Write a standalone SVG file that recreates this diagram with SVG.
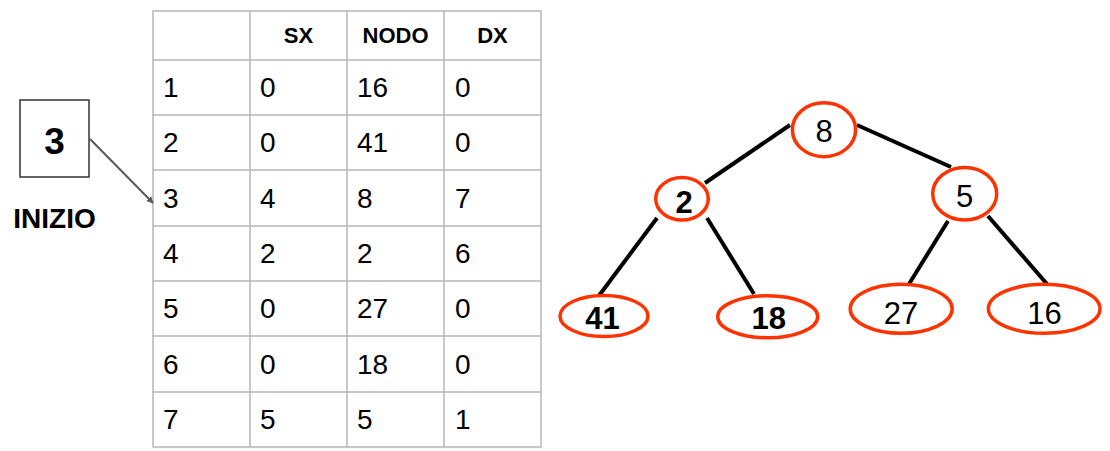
<svg xmlns="http://www.w3.org/2000/svg" width="1110" height="451" viewBox="0 0 1110 451">
<defs>
<style>
.grid{stroke:#b7b7b7;stroke-width:1.5;fill:none}
.hd{font-family:"Liberation Sans",Arial,sans-serif;font-weight:bold;font-size:22px;fill:#000;text-anchor:middle}
.cell{font-family:"Liberation Sans",Arial,sans-serif;font-size:28px;fill:#000}
.edge{stroke:#000;stroke-width:4;fill:none}
.nd{fill:#fff;stroke:#ff3300;stroke-width:3.5}
.nt{font-family:"Liberation Sans",Arial,sans-serif;font-size:31px;fill:#000;text-anchor:middle}
.b{font-weight:bold}
</style>
<marker id="ah" viewBox="0 0 10 10" refX="9" refY="5" markerWidth="7" markerHeight="7" orient="auto" markerUnits="userSpaceOnUse">
<path d="M0,0 L10,5 L0,10 z" fill="#595959"/>
</marker>
</defs>
<rect width="1110" height="451" fill="#fff"/>

<g id="table">
<rect class="grid" x="153" y="11" width="388" height="436"/>
<path class="grid" d="M250,11V447M347,11V447M444,11V447M153,60H541M153,115H541M153,170H541M153,226H541M153,281H541M153,336H541M153,392H541"/>
<text class="hd" x="298.5" y="43">SX</text>
<text class="hd" x="395.5" y="43">NODO</text>
<text class="hd" x="492.5" y="43">DX</text>
<g class="cell">
<text x="163" y="97">1</text><text x="260" y="97">0</text><text x="357" y="97">16</text><text x="455" y="97">0</text>
<text x="163" y="152">2</text><text x="260" y="152">0</text><text x="357" y="152">41</text><text x="455" y="152">0</text>
<text x="163" y="208">3</text><text x="260" y="208">4</text><text x="357" y="208">8</text><text x="455" y="208">7</text>
<text x="163" y="263">4</text><text x="260" y="263">2</text><text x="357" y="263">2</text><text x="455" y="263">6</text>
<text x="163" y="318">5</text><text x="260" y="318">0</text><text x="357" y="318">27</text><text x="455" y="318">0</text>
<text x="163" y="374">6</text><text x="260" y="374">0</text><text x="357" y="374">18</text><text x="455" y="374">0</text>
<text x="163" y="429">7</text><text x="260" y="429">5</text><text x="357" y="429">5</text><text x="455" y="429">1</text>
</g>
</g>

<g id="inizio">
<rect x="20" y="100" width="69" height="77" fill="#fff" stroke="#333" stroke-width="1.5"/>
<text x="54.5" y="154" font-family="Liberation Sans, Arial, sans-serif" font-weight="bold" font-size="37" text-anchor="middle">3</text>
<text x="54.5" y="228" font-family="Liberation Sans, Arial, sans-serif" font-weight="bold" font-size="28" text-anchor="middle">INIZIO</text>
</g>

<g id="connectors">
<line x1="90" y1="139" x2="153" y2="203" stroke="#595959" stroke-width="2" marker-end="url(#ah)"/>
<line class="edge" x1="790" y1="125" x2="705" y2="183"/>
<line class="edge" x1="857" y1="125" x2="951" y2="167"/>
<line class="edge" x1="657" y1="218" x2="598" y2="297"/>
<line class="edge" x1="707" y1="218" x2="754" y2="294"/>
<line class="edge" x1="948" y1="221" x2="909" y2="284"/>
<line class="edge" x1="988" y1="216" x2="1047" y2="284"/>
</g>

<g id="n8"><ellipse class="nd" cx="824" cy="129.7" rx="31.6" ry="27"/><text class="nt" x="824" y="141.7">8</text></g>
<g id="n2"><ellipse class="nd" cx="682" cy="198.8" rx="26.3" ry="21.2"/><text class="nt b" x="684" y="213.3">2</text></g>
<g id="n5"><ellipse class="nd" cx="964.7" cy="193.7" rx="32" ry="26.3"/><text class="nt" x="964.7" y="206.7">5</text></g>
<g id="n41"><ellipse class="nd" cx="604" cy="316" rx="44" ry="20.5"/><text class="nt b" x="602.5" y="329.3" font-size="34">41</text></g>
<g id="n18"><ellipse class="nd" cx="767.7" cy="316.7" rx="50" ry="21"/><text class="nt b" x="768.7" y="329.3" font-size="34">18</text></g>
<g id="n27"><ellipse class="nd" cx="901.2" cy="308.8" rx="51" ry="24.5"/><text class="nt" x="901" y="324.3" font-size="34">27</text></g>
<g id="n16"><ellipse class="nd" cx="1044.2" cy="308.8" rx="55.8" ry="24.5"/><text class="nt" x="1044.5" y="324.3" font-size="34">16</text></g>
</svg>
